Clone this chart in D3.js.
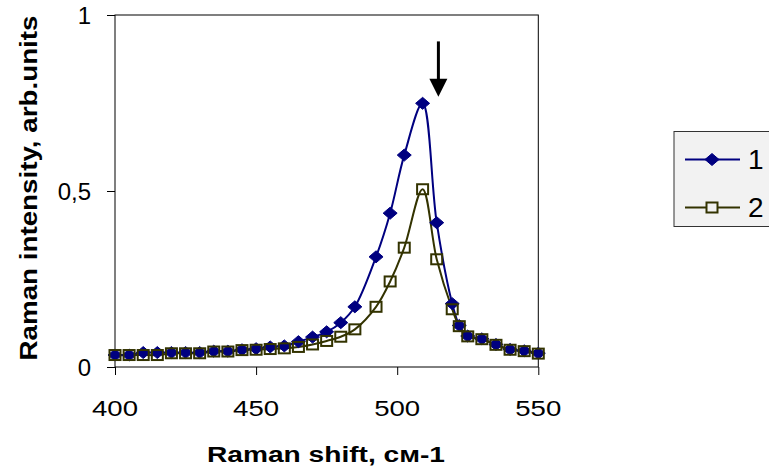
<!DOCTYPE html>
<html>
<head>
<meta charset="utf-8">
<script src="https://cdn.jsdelivr.net/npm/d3@7"></script>
<style>
  body { margin: 0; background: #fff; }
  text { font-family: "Liberation Sans", Arial, sans-serif; fill: #000; }
</style>
</head>
<body>
<svg id="chart" width="769" height="473"></svg>
<script>
// raman shift positions (cm-1)
var shift = [400, 405, 410, 415, 420, 425, 430, 435, 440, 445, 450, 455, 460, 465, 470, 475, 480, 485,
             492.5, 497.5, 502.5, 509, 514, 519.5, 522, 525, 530, 535, 540, 545, 550];
// series 1 (diamonds)
var series1 = [0.034, 0.034, 0.041, 0.041, 0.041, 0.041, 0.041, 0.045, 0.045, 0.049, 0.052, 0.057, 0.060, 0.072, 0.085, 0.100, 0.126, 0.171,
               0.313, 0.437, 0.602, 0.749, 0.410, 0.180, 0.118, 0.088, 0.080, 0.064, 0.050, 0.046, 0.039];
// series 2 (open squares)
var series2 = [0.034, 0.034, 0.034, 0.034, 0.039, 0.039, 0.039, 0.044, 0.044, 0.048, 0.049, 0.051, 0.053, 0.057, 0.064, 0.074, 0.086, 0.107,
               0.171, 0.243, 0.339, 0.505, 0.306, 0.164, 0.116, 0.087, 0.079, 0.063, 0.049, 0.045, 0.038];
var xTicks = [400, 450, 500, 550];
var yTicks = [0, 0.5, 1];
var yTickLabels = ["0", "0,5", "1"];
var legendNames = ["1", "2"];
// arrow pointing at the peak
var arrow = {x: 514.6, y1: 0.925, y2: 0.768};

var svg = d3.select("#chart");
var plotLeft = 115, plotRight = 538.3, plotTop = 15, plotBottom = 367;

var x = d3.scaleLinear().domain([400, 550]).range([plotLeft, plotRight]);
var y = d3.scaleLinear().domain([0, 1]).range([plotBottom, plotTop]);

// frame
svg.append("rect").attr("x", plotLeft).attr("y", plotTop)
  .attr("width", plotRight - plotLeft).attr("height", plotBottom - plotTop)
  .attr("fill", "none").attr("stroke", "#000").attr("stroke-width", 1);

svg.append("g").attr("transform", "translate(" + plotLeft + ",0)")
  .call(d3.axisLeft(y).tickValues(yTicks).tickSize(8).tickFormat(""));
svg.append("g").attr("transform", "translate(0," + plotBottom + ")")
  .call(d3.axisBottom(x).tickValues(xTicks).tickSize(8).tickFormat(""));
svg.selectAll(".domain").remove();
svg.selectAll(".tick line").attr("stroke", "#000");

// tick labels
svg.selectAll(".xlab").data(xTicks).enter().append("text")
  .attr("x", function(d) { return x(d); }).attr("y", 416)
  .attr("text-anchor", "middle").style("font-size", "22px")
  .attr("textLength", 46).attr("lengthAdjust", "spacingAndGlyphs")
  .text(function(d) { return d; });

svg.selectAll(".ylab").data(yTicks).enter().append("text")
  .attr("x", 91).attr("y", function(d) { return y(d) + 8.5; })
  .attr("text-anchor", "end").style("font-size", "24px")
  .text(function(d, i) { return yTickLabels[i]; });

// axis titles
svg.append("text").attr("x", 326).attr("y", 462)
  .attr("text-anchor", "middle").style("font-size", "22px").style("font-weight", "bold")
  .attr("textLength", 238).attr("lengthAdjust", "spacingAndGlyphs")
  .text("Raman shift, см-1");

svg.append("text").attr("transform", "translate(37,188) rotate(-90)")
  .attr("text-anchor", "middle").style("font-size", "24px").style("font-weight", "bold")
  .attr("textLength", 345).attr("lengthAdjust", "spacingAndGlyphs")
  .text("Raman intensity, arb.units");

// lines
var line = d3.line().curve(d3.curveCatmullRom.alpha(0.5))
  .x(function(d) { return x(d[0]); }).y(function(d) { return y(d[1]); });

var data1 = d3.zip(shift, series1);
var data2 = d3.zip(shift, series2);
var col1 = "#000080", col2 = "#333300";

svg.append("path").datum(data1).attr("d", line)
  .attr("fill", "none").attr("stroke", col1).attr("stroke-width", 2);
svg.append("path").datum(data2).attr("d", line)
  .attr("fill", "none").attr("stroke", col2).attr("stroke-width", 2);

function diamond(g, cx, cy) {
  g.append("path")
    .attr("d", "M" + cx + "," + (cy - 6) + "L" + (cx + 7) + "," + cy + "L" + cx + "," + (cy + 6) + "L" + (cx - 7) + "," + cy + "Z")
    .attr("fill", col1).attr("stroke", col1).attr("stroke-width", 1);
}
function square(g, cx, cy, fill) {
  g.append("rect").attr("x", cx - 5.5).attr("y", cy - 5).attr("width", 11).attr("height", 10)
    .attr("fill", fill).attr("stroke", col2).attr("stroke-width", 2);
}

var m1 = svg.append("g");
data1.forEach(function(d) { diamond(m1, x(d[0]), y(d[1])); });
var m2 = svg.append("g");
data2.forEach(function(d) { square(m2, x(d[0]), y(d[1]), "none"); });

// arrow
svg.append("line").attr("x1", x(arrow.x)).attr("x2", x(arrow.x))
  .attr("y1", y(arrow.y1)).attr("y2", y(arrow.y2) - 16)
  .attr("stroke", "#000").attr("stroke-width", 3);
svg.append("path")
  .attr("d", "M" + (x(arrow.x) - 9) + "," + (y(arrow.y2) - 18) + "L" + (x(arrow.x) + 9) + "," + (y(arrow.y2) - 18) +
        "L" + x(arrow.x) + "," + y(arrow.y2) + "Z")
  .attr("fill", "#000");

// legend
var lg = svg.append("g");
lg.append("rect").attr("x", 674).attr("y", 131.5).attr("width", 110).attr("height", 95)
  .attr("fill", "#f2f2f2").attr("stroke", "#333").attr("stroke-width", 1);
var ly = [159.5, 207.5];
lg.append("line").attr("x1", 685).attr("x2", 740).attr("y1", ly[0]).attr("y2", ly[0])
  .attr("stroke", col1).attr("stroke-width", 2);
diamond(lg, 712, ly[0]);
lg.append("line").attr("x1", 685).attr("x2", 740).attr("y1", ly[1]).attr("y2", ly[1])
  .attr("stroke", col2).attr("stroke-width", 2);
square(lg, 712, ly[1], "#f2f2f2");
lg.selectAll(".leg").data(legendNames).enter().append("text")
  .attr("x", 748).attr("y", function(d, i) { return ly[i] + 9; })
  .style("font-size", "28px").text(function(d) { return d; });
</script>
</body>
</html>
